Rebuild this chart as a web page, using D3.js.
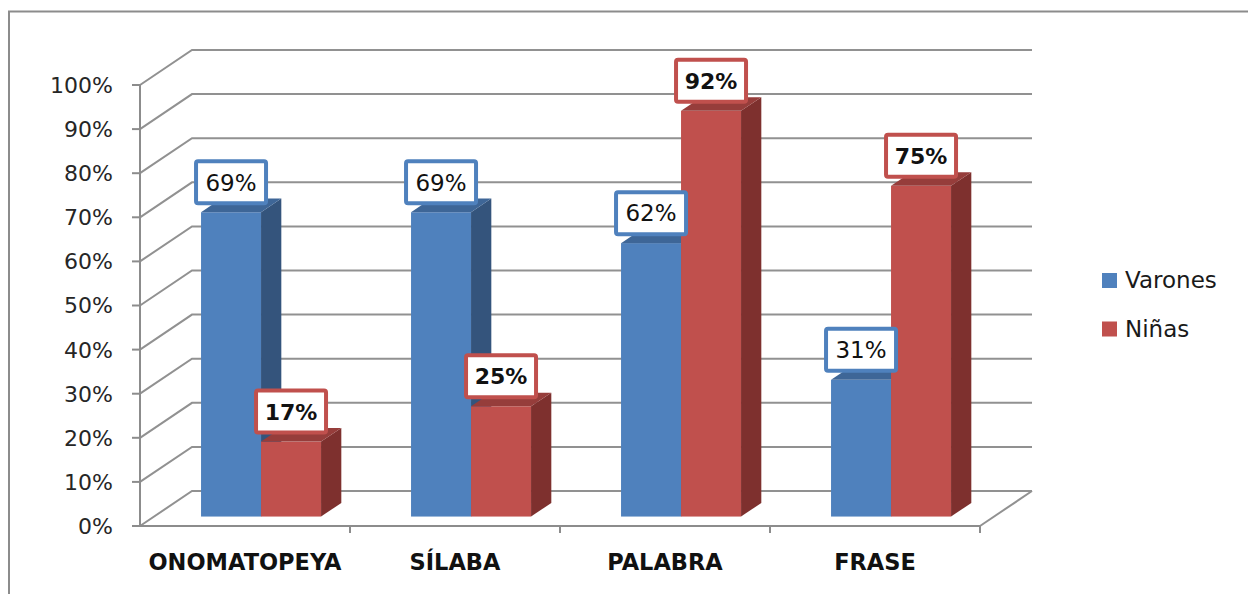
<!DOCTYPE html>
<html>
<head>
<meta charset="utf-8">
<script src="https://cdn.jsdelivr.net/npm/d3@7"></script>
<style>
  body { margin: 0; background: #fff; }
  #chart { width: 1248px; height: 594px; }
  text { font-family: "DejaVu Sans", sans-serif; }
</style>
</head>
<body>
<div id="chart"></div>
<script>
// chart data
const categories = ["ONOMATOPEYA", "SÍLABA", "PALABRA", "FRASE"];
const seriesNames = ["Varones", "Niñas"];
const varones = [0.69, 0.69, 0.62, 0.31];
const ninas = [0.17, 0.25, 0.92, 0.75];
const yTicks = [0, 0.1, 0.2, 0.3, 0.4, 0.5, 0.6, 0.7, 0.8, 0.9, 1.0];

const width = 1248, height = 594;

// 3d look: depth offset of the back wall
const DX = 52, DY = 35;
const barFront = 0.27, barDepth = 0.39;

const colors = {
    Varones: { front: '#4f81bd', side: '#34547c', top: '#3e6697', border: '#4f81bd' },
    "Niñas": { front: '#c0504d', side: '#7e302e', top: '#963d3b', border: '#c0504d' }
};

const svg = d3.select('#chart').append('svg')
    .attr('width', width)
    .attr('height', height);

// outer chart border (runs off the right/bottom edge)
svg.append('rect')
    .attr('x', 9).attr('y', 11.5)
    .attr('width', 1260).attr('height', 620)
    .attr('fill', 'none')
    .attr('stroke', '#8c8c8c')
    .attr('stroke-width', 2);

const x = d3.scaleBand().domain(categories).range([140, 980]);
const inner = d3.scaleBand().domain(seriesNames).range([47, 167]);
const y = d3.scaleLinear().domain([0, 1]).range([526, 85]);

const grid = svg.append('g');

// gridlines: left wall diagonal + back wall horizontal
grid.selectAll('.grid-line')
    .data(yTicks)
    .enter()
    .append('polyline')
    .attr('class', 'grid-line')
    .attr('points', d => `140,${y(d)} ${140 + DX},${y(d) - DY} ${980 + DX},${y(d) - DY}`)
    .attr('fill', 'none')
    .attr('stroke', '#919191')
    .attr('stroke-width', 2);

// floor right edge
grid.append('line')
    .attr('x1', 980).attr('y1', y(0))
    .attr('x2', 980 + DX).attr('y2', y(0) - DY)
    .attr('stroke', '#919191').attr('stroke-width', 2);

// front axes
grid.append('line')
    .attr('x1', 140).attr('y1', y(1))
    .attr('x2', 140).attr('y2', y(0) + 1)
    .attr('stroke', '#8c8c8c').attr('stroke-width', 2);
grid.append('line')
    .attr('x1', 139).attr('y1', y(0))
    .attr('x2', 980).attr('y2', y(0))
    .attr('stroke', '#8c8c8c').attr('stroke-width', 2);

// y ticks and labels
grid.selectAll('.y-tick')
    .data(yTicks)
    .enter()
    .append('line')
    .attr('x1', 132).attr('x2', 140)
    .attr('y1', d => y(d)).attr('y2', d => y(d))
    .attr('stroke', '#8c8c8c').attr('stroke-width', 2);

svg.selectAll('.y-label')
    .data(yTicks)
    .enter()
    .append('text')
    .attr('x', 113)
    .attr('y', d => y(d))
    .attr('dy', '0.36em')
    .style('text-anchor', 'end')
    .style('font-size', '22px')
    .style('fill', '#262626')
    .text(d => Math.round(d * 100) + '%');

// category ticks
grid.selectAll('.x-tick')
    .data(categories)
    .enter()
    .append('line')
    .attr('x1', d => x(d) + x.bandwidth()).attr('x2', d => x(d) + x.bandwidth())
    .attr('y1', y(0)).attr('y2', y(0) + 7)
    .attr('stroke', '#8c8c8c').attr('stroke-width', 2);

svg.selectAll('.x-label')
    .data(categories)
    .enter()
    .append('text')
    .attr('x', d => x(d) + x.bandwidth() / 2)
    .attr('y', 570)
    .style('text-anchor', 'middle')
    .style('font-size', '22.5px')
    .style('font-weight', 'bold')
    .style('fill', '#111')
    .text(d => d);

// bar data
const bars = [];
categories.forEach((c, i) => {
    bars.push({ cat: c, series: 'Varones', value: varones[i] });
    bars.push({ cat: c, series: 'Niñas', value: ninas[i] });
});

const fx = barFront * DX, fy = barFront * DY;
const dx = barDepth * DX, dy = barDepth * DY;
const bw = inner.bandwidth();

const barG = svg.selectAll('.bar')
    .data(bars)
    .enter()
    .append('g')
    .attr('class', 'bar');

function geom(d) {
    const x0 = x(d.cat) + inner(d.series) + fx;
    const yb = y(0) - fy;
    const yt = y(d.value) - fy;
    return { x0, x1: x0 + bw, yb, yt };
}

barG.append('rect')
    .attr('x', d => geom(d).x0)
    .attr('y', d => geom(d).yt)
    .attr('width', bw)
    .attr('height', d => geom(d).yb - geom(d).yt)
    .attr('fill', d => colors[d.series].front);

barG.append('polygon')
    .attr('points', d => {
        const g = geom(d);
        return `${g.x1},${g.yb} ${g.x1 + dx},${g.yb - dy} ${g.x1 + dx},${g.yt - dy} ${g.x1},${g.yt}`;
    })
    .attr('fill', d => colors[d.series].side);

barG.append('polygon')
    .attr('points', d => {
        const g = geom(d);
        return `${g.x0},${g.yt} ${g.x0 + dx},${g.yt - dy} ${g.x1 + dx},${g.yt - dy} ${g.x1},${g.yt}`;
    })
    .attr('fill', d => colors[d.series].top);

// data labels
const boxW = 70, boxH = 42;
const labelG = svg.selectAll('.data-label')
    .data(bars)
    .enter()
    .append('g')
    .attr('class', 'data-label')
    .attr('transform', d => {
        const g = geom(d);
        return `translate(${(g.x0 + g.x1) / 2}, ${g.yt - 30})`;
    });

labelG.append('rect')
    .attr('x', -boxW / 2).attr('y', -boxH / 2)
    .attr('width', boxW).attr('height', boxH)
    .attr('rx', 2)
    .attr('fill', '#fff')
    .attr('stroke', d => colors[d.series].border)
    .attr('stroke-width', 4);

labelG.append('text')
    .attr('dy', '0.36em')
    .style('text-anchor', 'middle')
    .style('font-size', d => d.series === 'Niñas' ? '22px' : '23px')
    .style('font-weight', d => d.series === 'Niñas' ? 'bold' : 'normal')
    .style('fill', '#111')
    .text(d => Math.round(d.value * 100) + '%');

// legend
const legend = svg.selectAll('.legend')
    .data(seriesNames)
    .enter()
    .append('g')
    .attr('class', 'legend')
    .attr('transform', (d, i) => `translate(1102, ${273 + i * 48.5})`);

legend.append('rect')
    .attr('width', 15)
    .attr('height', 15)
    .attr('fill', d => colors[d].front);

legend.append('text')
    .attr('x', 23)
    .attr('y', 15)
    .style('font-size', '23px')
    .style('fill', '#1a1a1a')
    .text(d => d);
</script>
</body>
</html>
